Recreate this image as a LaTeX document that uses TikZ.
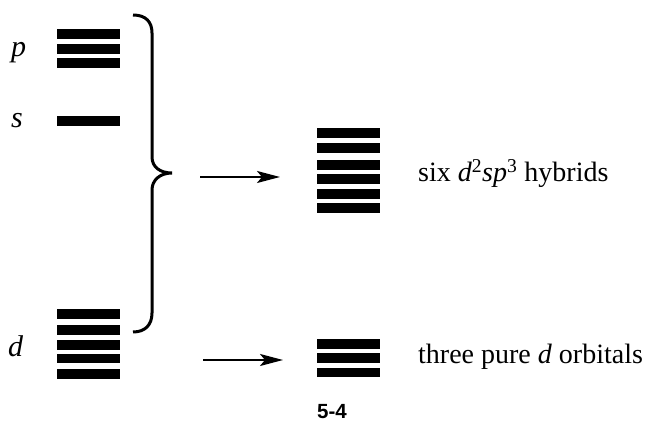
\documentclass[tikz,border=0pt]{standalone}
\usepackage{fontspec}
\setmainfont{Liberation Serif}
\newfontfamily\capfont{Liberation Sans}
\usetikzlibrary{arrows.meta}
\tikzset{
  lvl/.style={fill=black, inner sep=0pt, minimum width=63pt, minimum height=9.5pt},
  lbl/.style={anchor=base west, inner sep=0pt, font=\fontsize{28}{34}\selectfont},
  orb/.style={anchor=base west, inner sep=0pt, font=\fontsize{30}{36}\selectfont\itshape},
  conn/.style={line width=2.2pt, -{Stealth[length=23pt,width=12pt,inset=5pt]}},
  bracestyle/.style={line width=3pt},
}
\begin{document}
\begin{tikzpicture}[x=1pt,y=-1pt]
\useasboundingbox (0,0) rectangle (646,422);
% left levels
\node[lvl] (p1) at (88.5,34) {};
\node[lvl] (p2) at (88.5,49) {};
\node[lvl] (p3) at (88.5,63) {};
\node[lvl] (s1) at (88.5,121) {};
\node[lvl] (d1) at (88.5,314) {};
\node[lvl] (d2) at (88.5,330) {};
\node[lvl] (d3) at (88.5,345) {};
\node[lvl] (d4) at (88.5,358.5) {};
\node[lvl] (d5) at (88.5,374) {};
% right levels: hybrids
\node[lvl] (h1) at (348.5,133) {};
\node[lvl] (h2) at (348.5,148) {};
\node[lvl] (h3) at (348.5,165) {};
\node[lvl] (h4) at (348.5,179) {};
\node[lvl] (h5) at (348.5,194) {};
\node[lvl] (h6) at (348.5,208) {};
% right levels: pure d
\node[lvl] (e1) at (348.5,344) {};
\node[lvl] (e2) at (348.5,358) {};
\node[lvl] (e3) at (348.5,372.5) {};
% labels
\node[orb] (lp) at (11,57) {p};
\node[orb] (ls) at (11,128) {s};
\node[orb] (ld) at (8,357) {d};
\node[lbl] (lh) at (418,182) {six \textit{d}\textsuperscript{2}\textit{sp}\textsuperscript{3} hybrids};
\node[lbl] (le) at (418,363) {three pure \textit{d} orbitals};
\node[anchor=base west, inner sep=0pt, font=\capfont\bfseries\fontsize{20.5}{24}\selectfont] (cap) at (317,418) {5-4};
% brace
\draw[bracestyle] (133,15) .. controls (146,15) and (152,22) .. (152,33)
  -- (152,157) .. controls (152,167) and (160,173) .. (172,173)
  .. controls (160,173) and (152,180) .. (152,190)
  -- (152,313) .. controls (152,325) and (145,332) .. (133,332);
% arrows
\coordinate (a1s) at (200,177);
\coordinate (a1e) at (280,177);
\coordinate (a2s) at (203,360);
\coordinate (a2e) at (283,360);
\draw[conn] (a1s) -- (a1e);
\draw[conn] (a2s) -- (a2e);
\end{tikzpicture}
\end{document}
